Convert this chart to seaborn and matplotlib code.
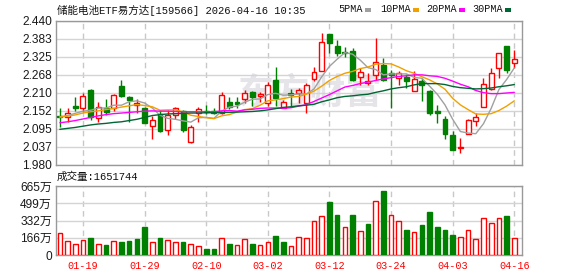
import numpy as np
import pandas as pd
import matplotlib
matplotlib.use("Agg")
import matplotlib.pyplot as plt
from matplotlib.patches import Rectangle
import seaborn as sns

# ---------------- data ----------------
dates = ['01-14', '01-15', '01-16', '01-19', '01-20', '01-21', '01-22', '01-23', '01-26', '01-27',
         '01-28', '01-29', '01-30', '02-02', '02-03', '02-04', '02-05', '02-06', '02-09', '02-10',
         '02-11', '02-12', '02-13', '02-24', '02-25', '02-26', '02-27', '03-02', '03-03', '03-04',
         '03-05', '03-06', '03-09', '03-10', '03-11', '03-12', '03-13', '03-16', '03-17', '03-18',
         '03-19', '03-20', '03-23', '03-24', '03-25', '03-26', '03-27', '03-30', '03-31', '04-01',
         '04-02', '04-03', '04-07', '04-08', '04-09', '04-10', '04-13', '04-14', '04-15', '04-16']

open_ = [2.137, 2.134, 2.169, 2.163, 2.220, 2.129, 2.163, 2.161, 2.232, 2.196,
         2.172, 2.161, 2.106, 2.142, 2.092, 2.140, 2.153, 2.054, 2.145, 2.151,
         2.151, 2.145, 2.182, 2.182, 2.190, 2.213, 2.200, 2.178, 2.253, 2.162,
         2.210, 2.210, 2.178, 2.256, 2.281, 2.398, 2.360, 2.341, 2.345, 2.260,
         2.242, 2.269, 2.300, 2.274, 2.258, 2.260, 2.217, 2.249, 2.217, 2.153,
         2.128, 2.077, 2.033, 2.078, 2.122, 2.166, 2.222, 2.291, 2.360, 2.305]

close = [2.133, 2.147, 2.163, 2.200, 2.134, 2.165, 2.150, 2.204, 2.202, 2.188,
         2.179, 2.115, 2.124, 2.089, 2.139, 2.163, 2.092, 2.100, 2.159, 2.148,
         2.146, 2.204, 2.166, 2.175, 2.210, 2.197, 2.207, 2.235, 2.194, 2.181,
         2.203, 2.221, 2.235, 2.277, 2.373, 2.369, 2.337, 2.339, 2.253, 2.276,
         2.249, 2.309, 2.253, 2.269, 2.274, 2.249, 2.256, 2.235, 2.146, 2.145,
         2.079, 2.027, 2.036, 2.124, 2.134, 2.238, 2.273, 2.337, 2.283, 2.318]

high = [2.162, 2.163, 2.198, 2.211, 2.222, 2.180, 2.190, 2.206, 2.252, 2.200,
        2.190, 2.166, 2.137, 2.156, 2.156, 2.165, 2.156, 2.108, 2.166, 2.172,
        2.163, 2.214, 2.198, 2.196, 2.221, 2.215, 2.213, 2.245, 2.292, 2.189,
        2.223, 2.226, 2.242, 2.292, 2.402, 2.399, 2.379, 2.358, 2.354, 2.290,
        2.275, 2.386, 2.322, 2.284, 2.281, 2.271, 2.281, 2.258, 2.221, 2.171,
        2.136, 2.088, 2.065, 2.127, 2.145, 2.257, 2.291, 2.338, 2.361, 2.347]

low = [2.101, 2.118, 2.152, 2.150, 2.124, 2.116, 2.140, 2.152, 2.198, 2.118,
       2.145, 2.113, 2.062, 2.086, 2.076, 2.126, 2.086, 2.049, 2.118, 2.143,
       2.143, 2.143, 2.158, 2.161, 2.178, 2.168, 2.181, 2.168, 2.168, 2.162,
       2.168, 2.178, 2.146, 2.247, 2.279, 2.337, 2.328, 2.326, 2.247, 2.235,
       2.236, 2.253, 2.247, 2.162, 2.237, 2.226, 2.215, 2.183, 2.141, 2.114,
       2.064, 2.027, 2.019, 2.078, 2.105, 2.166, 2.220, 2.259, 2.275, 2.289]

# volume in 万 (10k)
vol_wan = [209, 135, 106, 144, 164, 106, 96, 135, 128, 135,
           154, 270, 125, 164, 144, 125, 128, 106, 87, 58,
           58, 160, 109, 93, 154, 109, 93, 128, 183, 128,
           83, 170, 160, 324, 372, 510, 385, 266, 385, 228,
           299, 517, 616, 382, 324, 241, 218, 289, 414, 266,
           241, 193, 170, 238, 151, 353, 308, 353, 376, 165.1744]

ma5 = [2.134, 2.138, 2.145, 2.152, 2.155, 2.162, 2.162, 2.171, 2.171, 2.182,
       2.185, 2.178, 2.162, 2.139, 2.129, 2.126, 2.121, 2.117, 2.131, 2.132,
       2.129, 2.152, 2.165, 2.168, 2.181, 2.190, 2.191, 2.205, 2.209, 2.203,
       2.204, 2.207, 2.207, 2.223, 2.262, 2.295, 2.318, 2.339, 2.334, 2.315,
       2.291, 2.285, 2.268, 2.271, 2.271, 2.271, 2.260, 2.257, 2.232, 2.206,
       2.172, 2.126, 2.087, 2.082, 2.080, 2.112, 2.161, 2.221, 2.253, 2.290]

ma10 = [2.133, 2.136, 2.140, 2.146, 2.150, 2.153, 2.157, 2.161, 2.165, 2.169,
        2.173, 2.170, 2.166, 2.155, 2.156, 2.156, 2.150, 2.139, 2.135, 2.131,
        2.128, 2.137, 2.141, 2.149, 2.157, 2.160, 2.171, 2.185, 2.188, 2.192,
        2.197, 2.199, 2.206, 2.216, 2.232, 2.250, 2.263, 2.273, 2.279, 2.288,
        2.293, 2.302, 2.304, 2.303, 2.293, 2.281, 2.273, 2.262, 2.252, 2.239,
        2.222, 2.193, 2.172, 2.157, 2.143, 2.142, 2.144, 2.154, 2.168, 2.185]

ma20 = [2.115, 2.118, 2.122, 2.127, 2.132, 2.137, 2.141, 2.144, 2.146, 2.148,
        2.150, 2.152, 2.153, 2.152, 2.152, 2.151, 2.150, 2.150, 2.150, 2.150,
        2.150, 2.153, 2.154, 2.152, 2.156, 2.158, 2.161, 2.162, 2.162, 2.161,
        2.163, 2.168, 2.173, 2.183, 2.194, 2.205, 2.217, 2.229, 2.234, 2.240,
        2.245, 2.250, 2.255, 2.259, 2.263, 2.265, 2.268, 2.268, 2.265, 2.263,
        2.257, 2.248, 2.238, 2.230, 2.218, 2.211, 2.208, 2.208, 2.210, 2.212]

ma30 = [2.094, 2.097, 2.100, 2.104, 2.108, 2.111, 2.113, 2.116, 2.118, 2.122,
        2.126, 2.132, 2.138, 2.141, 2.143, 2.144, 2.145, 2.146, 2.146, 2.147,
        2.147, 2.148, 2.148, 2.149, 2.150, 2.151, 2.153, 2.156, 2.160, 2.164,
        2.166, 2.169, 2.171, 2.174, 2.182, 2.188, 2.195, 2.199, 2.201, 2.204,
        2.206, 2.212, 2.217, 2.223, 2.227, 2.230, 2.236, 2.240, 2.240, 2.240,
        2.237, 2.231, 2.227, 2.225, 2.223, 2.224, 2.226, 2.230, 2.233, 2.237]

price_ticks = [1.980, 2.0375, 2.095, 2.1525, 2.210, 2.2675, 2.325, 2.3825, 2.440]
price_labels = ['1.980', '2.037', '2.095', '2.152', '2.210', '2.268', '2.325', '2.383', '2.440']
vol_ticks = [0, 166.25, 332.5, 498.75, 665]
vol_labels = ['0', '166万', '332万', '499万', '665万']
date_labels = ['01-19', '01-29', '02-10', '03-02', '03-12', '03-24', '04-03', '04-16']
ma_names = ['5PMA', '10PMA', '20PMA', '30PMA']
title_text = '储能电池ETF易方达[159566] 2026-04-16 10:35'
vol_title = '成交量:1651744'
watermark = '东方财富'

# ---------------- style ----------------
sns.set_theme(style="white")
plt.rcParams['font.family'] = ['Liberation Sans', 'Noto Sans CJK SC']
plt.rcParams['axes.unicode_minus'] = False

RED = '#ff0000'
GREEN = '#008000'
MA_COLORS = ['#a0a0a0', '#f0a000', '#ff00ff', '#006633']
SPINE = '#999999'
GRID = '#d4d4d4'
MONO = ['Liberation Mono', 'Noto Sans CJK SC']

W, H = 578, 276
fig = plt.figure(figsize=(W / 100, H / 100), dpi=100)
L, R = 56, 522
ax1 = fig.add_axes([L / W, 1 - 165 / H, (R - L) / W, 144 / H])
ax2 = fig.add_axes([L / W, 1 - 255 / H, (R - L) / W, 69 / H])

x = np.arange(len(dates))
o = np.array(open_); c = np.array(close); hi = np.array(high); lo = np.array(low)
up = c >= o
tick_pos = [dates.index(d) for d in date_labels]

# ---------------- price panel ----------------
ax1.text(0.545, 0.5, watermark, transform=ax1.transAxes, ha='center', va='center',
         fontsize=26, fontweight='bold', color='#e4e4e9', family=['Noto Sans CJK SC'], zorder=0)

for ma, col in zip([ma5, ma10, ma20, ma30], MA_COLORS):
    sns.lineplot(x=x, y=ma, ax=ax1, color=col, lw=1.0, zorder=5, estimator=None, sort=False)

cols = np.where(up, RED, GREEN)
ax1.vlines(x, lo, hi, colors=cols, lw=1.0, zorder=3)
body_bottom = np.minimum(o, c)
body_h = np.maximum(np.abs(c - o), 0.0008)
ax1.bar(x, body_h, bottom=body_bottom, width=0.64,
        color=np.where(up, 'white', GREEN), edgecolor=cols, linewidth=1.0, zorder=4)

ax1.set_xlim(-0.5, 60.0)
ax1.set_ylim(1.980, 2.440)
ax1.set_yticks(price_ticks)
ax1.set_yticklabels(price_labels)
ax1.set_xticks(tick_pos)
ax1.set_xticklabels([])
ax1.tick_params(axis='both', length=0, pad=3)
ax1.tick_params(axis='y', labelsize=8.6, labelcolor='#1a1a1a')
ax1.grid(axis='y', color=GRID, lw=1.0, ls='-')
ax1.grid(axis='x', color='#c8c8c8', lw=1.0, ls=(0, (4, 3)))
ax1.set_xlabel(''); ax1.set_ylabel('')
for s in ax1.spines.values():
    s.set_color(SPINE); s.set_linewidth(1.0); s.set_visible(True)

# ---------------- volume panel ----------------
chg = np.diff(c, prepend=np.nan)
vdir = np.where(chg < 0, 'down', 'up')
vdf = pd.DataFrame({'x': x, 'vol': vol_wan, 'dir': vdir})
sns.barplot(data=vdf, x='x', y='vol', hue='dir', hue_order=['up', 'down'],
            palette={'up': RED, 'down': GREEN}, native_scale=True, dodge=False,
            width=0.6, saturation=1, legend=False, ax=ax2, zorder=3)
for p in ax2.patches:
    fc = matplotlib.colors.to_hex(p.get_facecolor())
    if fc == RED:
        p.set_facecolor('white'); p.set_edgecolor(RED)
    else:
        p.set_edgecolor(GREEN)
    p.set_linewidth(1.0)

ax2.set_xlim(-0.5, 60.0)
ax2.set_ylim(0, 665)
ax2.set_yticks(vol_ticks)
ax2.set_yticklabels(vol_labels)
ax2.set_xticks(tick_pos)
ax2.set_xticklabels(date_labels, family=MONO, fontsize=7.3, color=RED)
ax2.tick_params(axis='both', length=0)
ax2.tick_params(axis='x', pad=4.5)
ax2.tick_params(axis='y', pad=3, labelsize=8.6, labelcolor='#1a1a1a')
ax2.grid(axis='y', color=GRID, lw=1.0, ls='-')
ax2.grid(axis='x', color='#c8c8c8', lw=1.0, ls=(0, (4, 3)))
ax2.set_axisbelow(True)
ax2.set_xlabel(''); ax2.set_ylabel('')
for s in ax2.spines.values():
    s.set_color(SPINE); s.set_linewidth(1.0); s.set_visible(True)

# ---------------- texts ----------------
fig.text(57 / W, 1 - 10 / H, title_text, family=MONO, fontsize=7.6, color='#111111', va='center', ha='left')
fig.text(57 / W, 1 - 177 / H, vol_title, family=MONO, fontsize=7.6, color='#111111', va='center', ha='left')

leg_x = [338, 380, 426, 472]
sq_x = [365, 413, 459, 505]
for name, col, tx, sx in zip(ma_names, MA_COLORS, leg_x, sq_x):
    fig.text(tx / W, 1 - 9 / H, name, family=MONO, fontsize=7.3, color='#111111', va='center', ha='left')
    fig.add_artist(Rectangle((sx / W, 1 - 11.5 / H), 6 / W, 4 / H, transform=fig.transFigure,
                             facecolor=col, edgecolor='none'))

fig.savefig('out.png', dpi=100)
